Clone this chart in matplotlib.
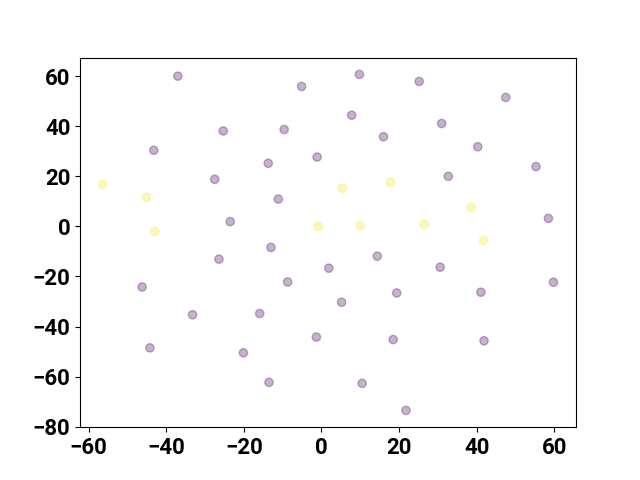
import matplotlib
matplotlib.use("Agg")
from matplotlib import pyplot as plt

# cluster 1 (yellow) and cluster 0 (purple) points
x_yellow = [-56.4, -45.1, -43.0, -0.8, 5.4, 10.0, 17.8, 26.5, 38.6, 41.8]
y_yellow = [16.8, 11.6, -2.0, 0.0, 15.2, 0.4, 17.6, 0.8, 7.6, -5.7]

x_purple = [-37.0, -5.1, -25.3, -9.6, -43.2, -13.7, -1.1, -27.5, -11.1, -23.5, -13.0,
            9.8, 25.2, 47.5, 7.8, 31.0, 16.0, 40.3, 55.3, 32.7, 58.5,
            -26.4, -8.7, -46.2, -33.2, -15.9, -1.3, -44.2, -20.1, -13.5,
            14.4, 1.9, 30.6, 59.8, 19.4, 41.1, 5.2, 18.5, 41.9, 10.5, 21.8]
y_purple = [60.0, 55.9, 38.1, 38.7, 30.4, 25.2, 27.7, 18.8, 10.9, 1.9, -8.4,
            60.7, 57.9, 51.5, 44.4, 41.1, 35.8, 31.8, 23.9, 20.0, 3.2,
            -13.1, -22.2, -24.2, -35.3, -34.8, -44.2, -48.5, -50.5, -62.3,
            -11.9, -16.7, -16.3, -22.3, -26.6, -26.3, -30.3, -45.2, -45.7, -62.7, -73.5]

x = x_purple + x_yellow
y = y_purple + y_yellow
labels = [0] * len(x_purple) + [1] * len(x_yellow)

plt.rcParams['font.family'] = ['Roboto', 'DejaVu Sans']
plt.figure(figsize=(6.4, 4.8), dpi=100)
plt.scatter(x, y, c=labels, cmap='viridis', alpha=0.3)
plt.xticks(fontsize=16, fontweight='bold')
plt.yticks(fontsize=16, fontweight='bold')
plt.savefig('out.png')
